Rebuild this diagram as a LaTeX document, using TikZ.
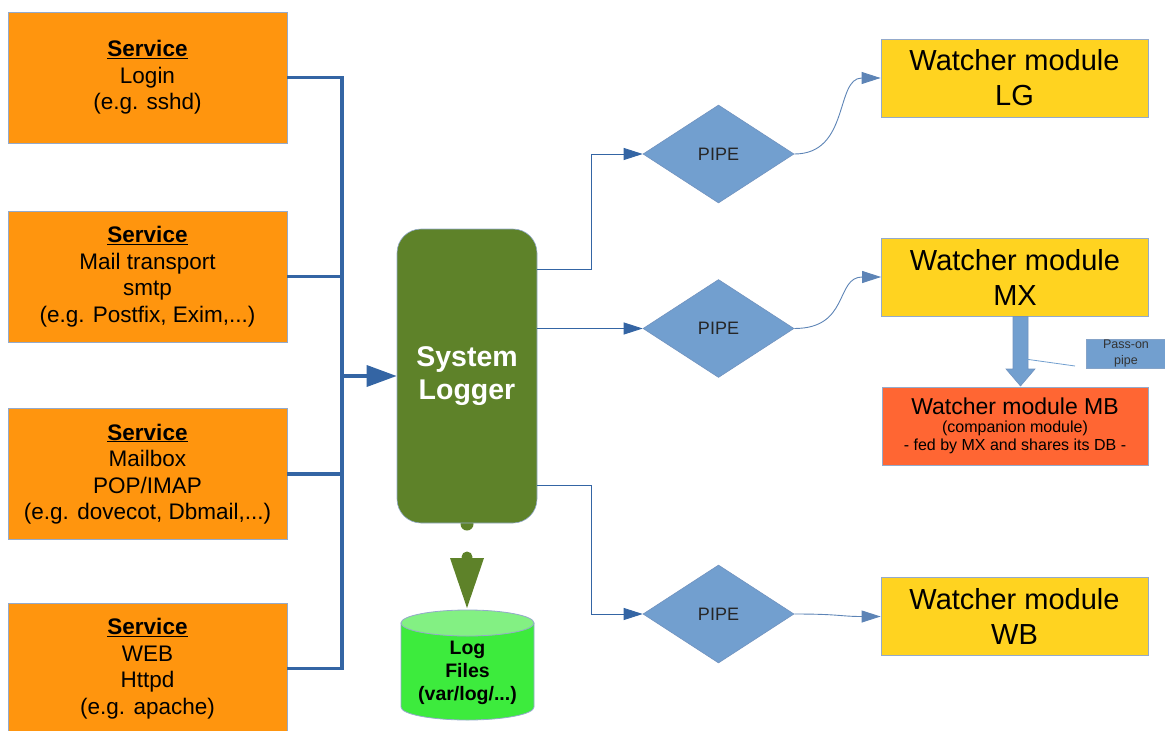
\documentclass[tikz,border=0pt]{standalone}
\usepackage{fontspec}
\setmainfont{Liberation Sans}
\usetikzlibrary{arrows.meta,shapes.geometric}
\definecolor{svcorange}{HTML}{FF950E}
\definecolor{boxborder}{HTML}{94AACB}
\definecolor{watchyellow}{HTML}{FFD320}
\definecolor{loggreen}{HTML}{5E8229}
\definecolor{pipeblue}{HTML}{729FCF}
\definecolor{lineblue}{HTML}{3465A4}
\definecolor{mbred}{HTML}{FF6633}
\definecolor{cylbody}{HTML}{3DEB3D}
\definecolor{cyltop}{HTML}{83F083}
\begin{document}
\begin{tikzpicture}[x=1pt,y=-1pt,
  svc/.style={rectangle,fill=svcorange,draw=boxborder,line width=0.8pt,minimum width=279pt,minimum height=131pt,inner sep=0pt,align=center,font=\fontsize{22.5}{26.5}\selectfont},
  watcher/.style={rectangle,fill=watchyellow,draw=boxborder,line width=0.8pt,minimum width=267pt,minimum height=78pt,inner sep=0pt,align=center,font=\fontsize{29}{35}\selectfont},
  loggerbox/.style={rectangle,rounded corners=24pt,fill=loggreen,draw=boxborder,line width=0.6pt,minimum width=140pt,minimum height=294pt,inner sep=0pt,align=center,text=white,font=\bfseries\fontsize{28.5}{33}\selectfont},
  pipebox/.style={diamond,fill=pipeblue,draw=lineblue!70,line width=0.6pt,minimum width=151pt,minimum height=98pt,inner sep=0pt,font=\fontsize{18}{20}\selectfont,text=black!85},
  bus/.style={draw=lineblue,line width=3.5pt},
  busarrow/.style={draw=lineblue,line width=3.5pt,-{Triangle[length=30pt,width=21pt]}},
  feed/.style={draw=lineblue,line width=0.9pt,-{Triangle[length=19pt,width=12pt]}},
  curvefeed/.style={draw=lineblue!80,line width=0.9pt,-{Triangle[length=19pt,width=12pt]}}
]
\useasboundingbox (0,0) rectangle (1165,731);

% services
\node[svc] (s1) at (147.5,77.5) {\underline{\textbf{Service}}\\Login\\(e.g. sshd)};
\node[svc] (s2) at (147.5,276.5) {\underline{\textbf{Service}}\\Mail transport\\smtp\\(e.g. Postfix, Exim,...)};
\node[svc] (s3) at (147.5,474) {\underline{\textbf{Service}}\\Mailbox\\POP/IMAP\\(e.g. dovecot, Dbmail,...)};
\node[svc] (s4) at (147.5,668.5) {\underline{\textbf{Service}}\\WEB\\Httpd\\(e.g. apache)};

% logger nub and arrow to log files
\fill[loggreen] (467,524) circle[radius=6.5];
\node[loggerbox] (lg) at (467,376) {System\\Logger};
\coordinate (bj) at (342,376);
\draw[bus] (s1.east) -| (bj);
\draw[bus] (s2.east) -| (bj);
\draw[bus] (s3.east) -| (bj);
\draw[bus] (s4.east) -| (bj);
\draw[busarrow] (bj) -- (lg.west);

% log files cylinder
\fill[loggreen] (467,557) circle[radius=5.5];
\fill[loggreen] (450,558) -- (484,558) -- (467,608) -- cycle;
\filldraw[fill=cylbody,draw=boxborder,line width=0.8pt] (401,623) -- (401,707) arc[start angle=180,end angle=0,x radius=66.5,y radius=13] -- (534,623) -- cycle;
\filldraw[fill=cyltop,draw=boxborder,line width=0.8pt] (467.5,623) ellipse[x radius=66.5,y radius=13];
\node[align=center,font=\bfseries\fontsize{19.5}{23}\selectfont] (logs) at (467.5,673) {Log\\Files\\(var/log/...)};

% pipes
\node[pipebox] (d1) at (718.5,154) {PIPE};
\node[pipebox] (d2) at (718.5,328.5) {PIPE};
\node[pipebox] (d3) at (718.5,614) {PIPE};

\coordinate (o1) at (537,269);
\coordinate (o3) at (537,485);
\draw[feed] (o1) -- (591,269) |- (d1.west);
\draw[feed] (lg.east |- d2.west) -- (d2.west);
\draw[feed] (o3) -- (591,485) |- (d3.west);

% watchers
\node[watcher] (wlg) at (1014.5,78) {Watcher module\\LG};
\node[watcher] (wmx) at (1015,277) {Watcher module\\MX};
\node[rectangle,fill=mbred,draw=boxborder,line width=0.8pt,minimum width=266pt,minimum height=78pt,inner sep=0pt,align=center,font=\fontsize{16}{18}\selectfont] (wmb) at (1015,426) {{\fontsize{23}{24}\selectfont Watcher module MB}\\(companion module)\\- fed by MX and shares its DB -};
\node[watcher] (wwb) at (1014.5,616.5) {Watcher module\\WB};

\draw[curvefeed] (d1.east) .. controls (850,154) and (835,78) .. (wlg.west);
\draw[curvefeed] (d2.east) .. controls (850,328.5) and (835,277) .. (wmx.west);
\draw[curvefeed] (d3.east) .. controls (840,614) and (840,616.5) .. (wwb.west);

% pass-on pipe block arrow
\filldraw[fill=pipeblue,draw=lineblue!70,line width=0.6pt] (1013,316.5) -- (1028,316.5) -- (1028,369) -- (1035,369) -- (1020.5,386) -- (1006,369) -- (1013,369) -- cycle;
\node[rectangle,fill=pipeblue,draw=lineblue!60,line width=0.6pt,minimum width=80pt,minimum height=29pt,inner sep=0pt,align=center,font=\fontsize{12.5}{15.5}\selectfont,text=black!80] (pp) at (1126,353.5) {Pass-on\\pipe};
\coordinate (ppl) at (1075,366);
\coordinate (ppa) at (1025,359);
\draw[pipeblue,line width=0.8pt] (ppl) -- (ppa);
\end{tikzpicture}
\end{document}
